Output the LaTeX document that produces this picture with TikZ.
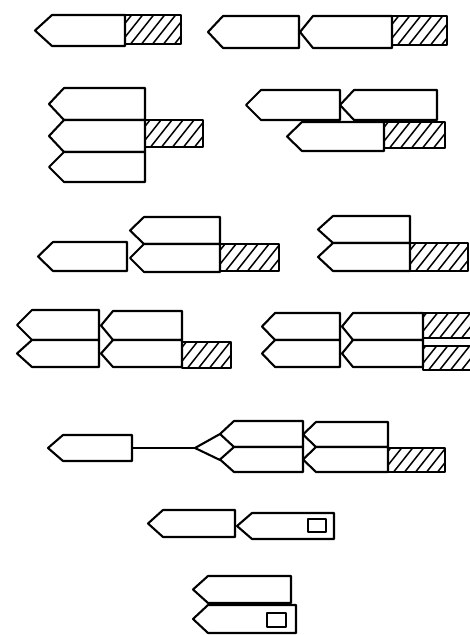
\documentclass[tikz,border=0pt]{standalone}
\tikzset{
  outl/.style={line width=2.1pt, line join=round},
  hatchline/.style={line width=1.5pt},
  conn/.style={line width=1.3pt},
}
\newcommand\pentshape[5]{% tip x, right x, top y, bottom y, tip depth
  \draw[outl,fill=white] ({#1+#5},#3) -- (#2,#3) -- (#2,#4) -- ({#1+#5},#4) -- (#1,{(#3+#4)/2}) -- cycle;}
\newcommand\hatchbox[4]{% x1, x2, y1 (top), y2 (bottom)
  \begin{scope}
    \clip (#1,#3) rectangle (#2,#4);
    \foreach \k in {-40,-29,...,80} \draw[hatchline] ({#1+\k},{#4+2}) -- ++(27,-34);
  \end{scope}
  \draw[outl] (#1,#3) rectangle (#2,#4);}
\newcommand\smallsq[4]{\draw[outl] (#1,#3) rectangle (#2,#4);}
\begin{document}
\begin{tikzpicture}[x=1pt,y=-1pt]
\useasboundingbox (0,0) rectangle (470,635);
% Row 1
\pentshape{35}{125}{15}{46}{17}
\hatchbox{125}{181}{15}{44}
\pentshape{208}{299}{16}{48}{15}
\pentshape{300}{392}{16}{48}{13}
\hatchbox{392}{447}{16}{45}
% Row 2 left
\pentshape{49}{145}{88}{120}{15}
\pentshape{49}{145}{120}{152}{15}
\pentshape{49}{145}{152}{182}{15}
\hatchbox{145}{203}{120}{147}
% Row 2 right
\pentshape{246}{340}{90}{120}{15}
\pentshape{340}{437}{90}{120}{14}
\pentshape{287}{384}{122}{151}{15}
\hatchbox{384}{445}{122}{148}
% Row 3
\pentshape{38}{127}{242}{271}{15}
\pentshape{130}{220}{217}{244}{14}
\pentshape{130}{220}{244}{272}{14}
\hatchbox{220}{279}{244}{271}
\pentshape{318}{410}{216}{243}{15}
\pentshape{318}{410}{243}{271}{15}
\hatchbox{410}{468}{243}{271}
% Row 4
\pentshape{17}{99}{310}{340}{15}
\pentshape{17}{99}{340}{367}{15}
\pentshape{101}{182}{311}{340}{12}
\pentshape{101}{182}{340}{367}{12}
\hatchbox{182}{231}{342}{368}
\pentshape{262}{340}{313}{340}{13}
\pentshape{262}{340}{340}{367}{13}
\pentshape{342}{423}{313}{340}{11}
\pentshape{342}{423}{340}{367}{11}
\hatchbox{423}{474}{313}{338}
\hatchbox{423}{474}{346}{370}
% Row 5
\pentshape{48}{132}{435}{461}{15}
\coordinate (p23r) at (132,448);
\coordinate (dl) at (195,448);
\coordinate (t24) at (220,434);
\coordinate (t25) at (220,460);
\draw[conn] (p23r) -- (dl);
\draw[outl] (dl) -- (t24);
\draw[outl] (dl) -- (t25);
\pentshape{220}{303}{421}{447}{14}
\pentshape{220}{303}{447}{472}{14}
\pentshape{303}{388}{422}{447}{13}
\pentshape{303}{388}{447}{472}{13}
\hatchbox{388}{445}{448}{472}
% Row 6
\pentshape{148}{235}{510}{537}{15}
\pentshape{237}{334}{513}{539}{15}
\smallsq{308}{326}{519}{532}
% Row 7
\pentshape{193}{291}{576}{603}{15}
\pentshape{193}{296}{605}{633}{15}
\smallsq{267}{286}{613}{627}
\end{tikzpicture}
\end{document}
